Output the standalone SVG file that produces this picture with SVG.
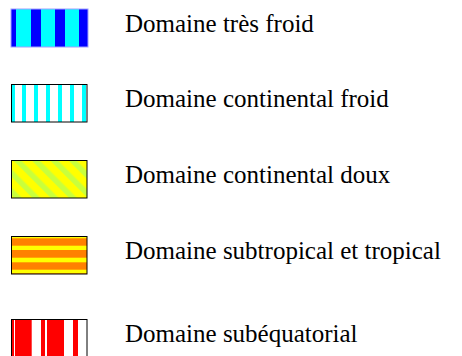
<svg xmlns="http://www.w3.org/2000/svg" width="462" height="356" viewBox="0 0 462 356">
  <style>
    .lbl { font-family: "Liberation Serif", "Times New Roman", serif; font-size: 25px; fill: #000; }
    .frame { fill: none; stroke: #000; stroke-width: 1; }
  </style>
  <defs>
    <pattern id="diag" patternUnits="userSpaceOnUse" width="13" height="13" patternTransform="rotate(-45)">
      <rect width="13" height="13" fill="#ffff00"/>
      <rect width="5.5" height="13" fill="#c8ff3c"/>
    </pattern>
    <clipPath id="c5"><rect x="11" y="319" width="77" height="38"/></clipPath>
  </defs>
  <rect width="462" height="356" fill="#ffffff"/>

  <g id="tres-froid">
    <rect x="11" y="9" width="77" height="38" fill="#0000ff"/>
    <rect x="16" y="9" width="15" height="38" fill="#00ffff"/>
    <rect x="41" y="9" width="14" height="38" fill="#00ffff"/>
    <rect x="65" y="9" width="14" height="38" fill="#00ffff"/>
    <rect x="11" y="9" width="77" height="38" fill="none" stroke="#a0a0ff" stroke-width="1"/>
    <text class="lbl" x="125" y="32">Domaine très froid</text>
  </g>

  <g id="continental-froid">
    <rect x="11" y="84" width="76" height="38" fill="#ffffff"/>
    <rect x="12" y="84" width="3" height="38" fill="#00ffff"/>
    <rect x="22" y="84" width="4" height="38" fill="#00ffff"/>
    <rect x="34" y="84" width="4" height="38" fill="#00ffff"/>
    <rect x="46" y="84" width="4" height="38" fill="#00ffff"/>
    <rect x="58" y="84" width="4" height="38" fill="#00ffff"/>
    <rect x="70" y="84" width="4" height="38" fill="#00ffff"/>
    <rect x="82" y="84" width="4" height="38" fill="#00ffff"/>
    <rect class="frame" x="11.5" y="84.5" width="75.5" height="37.5"/>
    <text class="lbl" x="125" y="107">Domaine continental froid</text>
  </g>

  <g id="continental-doux">
    <rect x="11" y="160" width="76" height="38" fill="url(#diag)"/>
    <rect class="frame" x="11.5" y="160.5" width="75.5" height="37.5" stroke="#222"/>
    <text class="lbl" x="125" y="183">Domaine continental doux</text>
  </g>

  <g id="subtropical">
    <rect x="11" y="236" width="76" height="38" fill="#ff8000"/>
    <rect x="11" y="236" width="76" height="2.3" fill="#ffff00"/>
    <rect x="11" y="245.7" width="76" height="4.3" fill="#ffff00"/>
    <rect x="11" y="257.7" width="76" height="4.6" fill="#ffff00"/>
    <rect x="11" y="269.7" width="76" height="3.6" fill="#ffff00"/>
    <rect class="frame" x="11.5" y="236.5" width="75.5" height="37.5" stroke="#333"/>
    <text class="lbl" x="125" y="259">Domaine subtropical et tropical</text>
  </g>

  <g id="subequatorial">
    <g clip-path="url(#c5)">
      <rect x="11" y="319" width="77" height="38" fill="#ffffff"/>
      <rect x="12" y="319" width="2" height="38" fill="#ff0000"/>
      <rect x="15" y="319" width="16.7" height="38" fill="#ff0000"/>
      <rect x="41" y="319" width="4" height="38" fill="#ff0000"/>
      <rect x="47" y="319" width="17" height="38" fill="#ff0000"/>
      <rect x="73" y="319" width="5" height="38" fill="#ff0000"/>
    </g>
    <rect class="frame" x="11.5" y="319.5" width="75.5" height="38"/>
    <text class="lbl" x="125" y="342">Domaine subéquatorial</text>
  </g>

  <g id="connectors"></g>
</svg>
